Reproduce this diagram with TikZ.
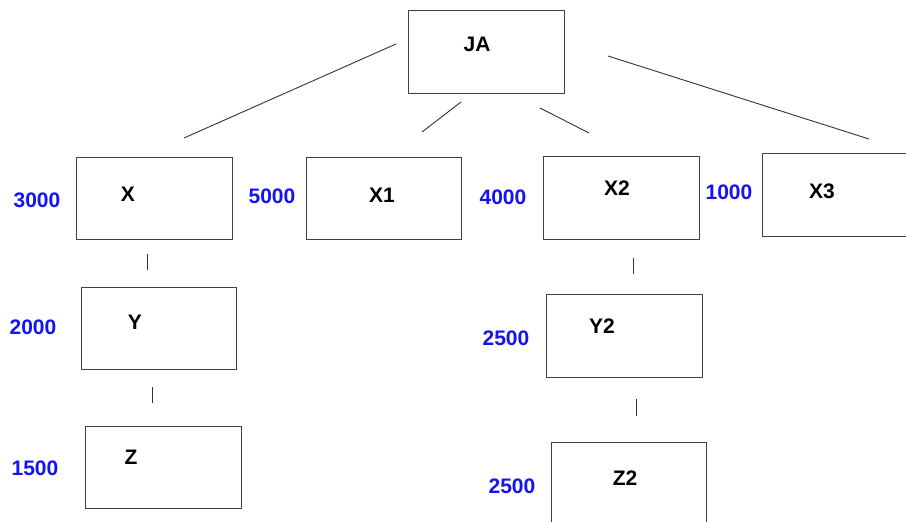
\documentclass[tikz,border=0pt]{standalone}
\usepackage{fontspec}
\setmainfont{Liberation Sans}
\begin{document}
\begin{tikzpicture}[x=1pt,y=-1pt,
  box/.style={draw=black!75,line width=1.3pt,fill=white,rectangle,anchor=north west,inner sep=0pt},
  boxtext/.style={font=\fontsize{21}{24}\selectfont\bfseries,text=black,inner sep=0pt,anchor=center},
  amount/.style={font=\fontsize{21}{24}\selectfont\bfseries,text={rgb,255:red,20;green,20;blue,240},inner sep=0pt,anchor=center},
  link/.style={draw=black!80,line width=0.9pt}]
\useasboundingbox[fill=white] (0,0) rectangle (906,522);
\clip (0,0) rectangle (906,522);
% boxes
\node[box,minimum width=156pt,minimum height=83pt] (ja) at (408,10) {};
\node[box,minimum width=156pt,minimum height=82pt] (x)  at (76,157) {};
\node[box,minimum width=155pt,minimum height=82pt] (x1) at (306,157) {};
\node[box,minimum width=156pt,minimum height=83pt] (x2) at (543,156) {};
\node[box,minimum width=160pt,minimum height=83pt] (x3) at (762,153) {};
\node[box,minimum width=155pt,minimum height=82pt] (y)  at (81,287) {};
\node[box,minimum width=156pt,minimum height=83pt] (y2) at (546,294) {};
\node[box,minimum width=156pt,minimum height=82pt] (z)  at (85,426) {};
\node[box,minimum width=155pt,minimum height=90pt] (z2) at (551,442) {};
% box texts
\node[boxtext] (tja) at (477,44) {JA};
\node[boxtext] (tx)  at (128,194) {X};
\node[boxtext] (tx1) at (382,195) {X1};
\node[boxtext] (tx2) at (617,188) {X2};
\node[boxtext] (tx3) at (822,191) {X3};
\node[boxtext] (ty)  at (135,322) {Y};
\node[boxtext] (ty2) at (602,326) {Y2};
\node[boxtext] (tz)  at (131,457) {Z};
\node[boxtext] (tz2) at (625,478) {Z2};
% amounts
\node[amount] (ax)  at (37,200) {3000};
\node[amount] (ax1) at (272,196) {5000};
\node[amount] (ax2) at (503,197) {4000};
\node[amount] (ax3) at (729,192) {1000};
\node[amount] (ay)  at (33,327) {2000};
\node[amount] (ay2) at (506,338) {2500};
\node[amount] (az)  at (35,468) {1500};
\node[amount] (az2) at (512,486) {2500};
% connector end points
\coordinate (c1a) at (396,44);  \coordinate (c1b) at (184,138);
\coordinate (c2a) at (461,102); \coordinate (c2b) at (422,132);
\coordinate (c3a) at (540,108); \coordinate (c3b) at (589,133);
\coordinate (c4a) at (608,56);  \coordinate (c4b) at (869,139);
\coordinate (c5a) at (147,254); \coordinate (c5b) at (147,270);
\coordinate (c6a) at (152,387); \coordinate (c6b) at (152,403);
\coordinate (c7a) at (633,258); \coordinate (c7b) at (633,274);
\coordinate (c8a) at (636,399); \coordinate (c8b) at (636,416);
\draw[link] (c1a) -- (c1b);
\draw[link] (c2a) -- (c2b);
\draw[link] (c3a) -- (c3b);
\draw[link] (c4a) -- (c4b);
\draw[link] (c5a) -- (c5b);
\draw[link] (c6a) -- (c6b);
\draw[link] (c7a) -- (c7b);
\draw[link] (c8a) -- (c8b);
\end{tikzpicture}
\end{document}
